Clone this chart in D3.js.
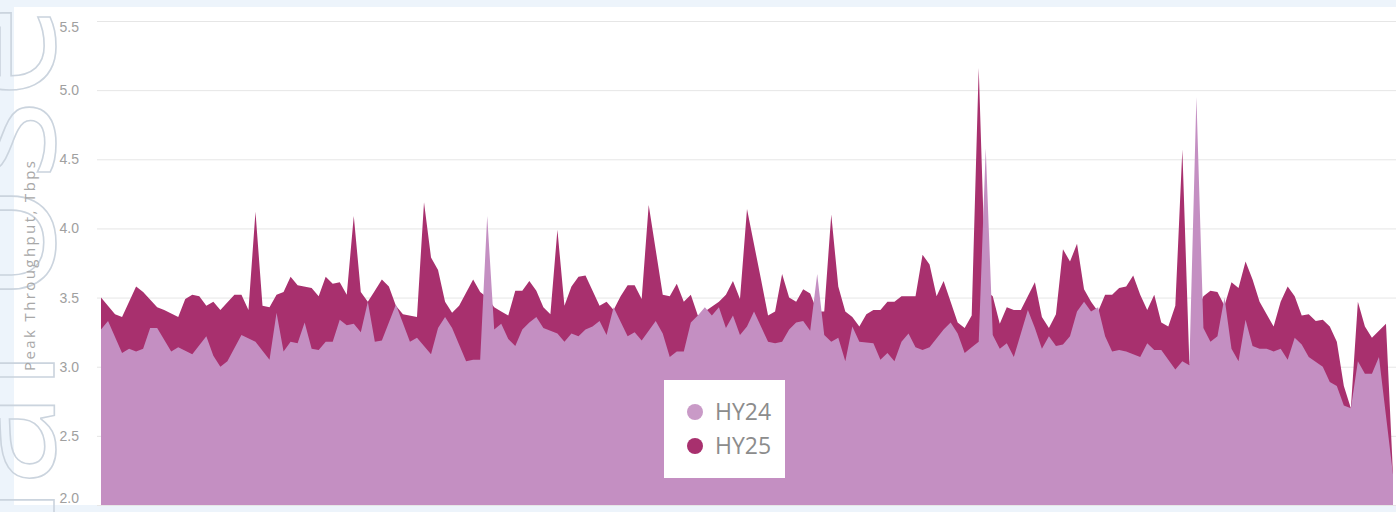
<!DOCTYPE html>
<html lang="en">
<head>
  <meta charset="UTF-8">
  <title>Peak Throughput HY24 vs HY25</title>
  <script src="https://d3js.org/d3.v7.min.js"></script>
  <style>
    body {
      margin: 0;
      background: #edf4fb;
      font-family: "Segoe UI", "Open Sans", "Noto Sans", sans-serif;
    }

    .grid line {
      stroke: #e6e6e6;
      stroke-width: 1px;
    }

    .grid text {
      fill: #a0a0a0;
      font-size: 14px;
    }

    .axis-title {
      fill: #a8a8a8;
      font-size: 15px;
    }

    .legend-label {
      fill: #8c8c8c;
      font-size: 23px;
    }

    .watermark {
      fill: none;
      stroke: #cbd4de;
      stroke-width: 1.6px;
      font-size: 170px;
      font-family: "Open Sans", sans-serif;
    }
  </style>
</head>
<body>
  <svg width="1396" height="512"></svg>

  <script>
    // values: [day of half-year, Tbps]
    var hy24Points = [
      [0, 3.27], [1, 3.33], [3, 3.10], [4, 3.13], [5, 3.11], [6, 3.13], [7, 3.28], [8, 3.28], [10, 3.11], [11, 3.14],
      [13, 3.09], [15, 3.22], [16, 3.08], [17, 3.00], [18, 3.04], [20, 3.23], [22, 3.18], [24, 3.05], [25, 3.39], [26, 3.11],
      [27, 3.18], [28, 3.17], [29, 3.32], [30, 3.13], [31, 3.12], [32, 3.18], [33, 3.18], [34, 3.34], [35, 3.30], [36, 3.31],
      [37, 3.25], [38, 3.47], [39, 3.18], [40, 3.19], [42, 3.45], [44, 3.18], [45, 3.21], [46, 3.15], [47, 3.09], [48, 3.28],
      [49, 3.36], [50, 3.28], [52, 3.04], [53, 3.05], [54, 3.05], [55, 4.09], [56, 3.27], [57, 3.31], [58, 3.20], [59, 3.15],
      [60, 3.27], [61, 3.32], [62, 3.36], [63, 3.28], [65, 3.24], [66, 3.18], [67, 3.24], [68, 3.22], [69, 3.27], [70, 3.29],
      [71, 3.33], [72, 3.23], [73, 3.43], [75, 3.22], [76, 3.25], [77, 3.19], [79, 3.33], [80, 3.24], [81, 3.07], [82, 3.11],
      [83, 3.11], [84, 3.32], [85, 3.37], [86, 3.43], [87, 3.37], [88, 3.43], [89, 3.28], [90, 3.37], [91, 3.23], [92, 3.29],
      [93, 3.40], [95, 3.18], [96, 3.17], [97, 3.18], [98, 3.27], [99, 3.32], [100, 3.33], [101, 3.26], [102, 3.67], [103, 3.23],
      [104, 3.18], [105, 3.21], [106, 3.04], [107, 3.29], [108, 3.18], [110, 3.17], [111, 3.05], [112, 3.10], [113, 3.04], [114, 3.18],
      [115, 3.24], [116, 3.14], [117, 3.12], [118, 3.14], [120, 3.27], [121, 3.32], [122, 3.24], [123, 3.10], [124, 3.14], [125, 3.18],
      [126, 4.58], [127, 3.23], [128, 3.13], [129, 3.17], [130, 3.07], [131, 3.24], [132, 3.41], [133, 3.28], [134, 3.13], [135, 3.22],
      [136, 3.15], [137, 3.16], [138, 3.22], [139, 3.40], [140, 3.47], [141, 3.40], [142, 3.43], [143, 3.22], [144, 3.11], [145, 3.12],
      [146, 3.11], [148, 3.07], [149, 3.17], [150, 3.12], [151, 3.12], [153, 2.98], [154, 3.04], [155, 3.01], [156, 4.95], [157, 3.28],
      [158, 3.18], [159, 3.22], [160, 3.50], [161, 3.13], [162, 3.04], [163, 3.34], [164, 3.15], [165, 3.13], [166, 3.13], [167, 3.11],
      [168, 3.13], [169, 3.05], [170, 3.21], [171, 3.16], [172, 3.07], [174, 3.00], [175, 2.89], [176, 2.86], [177, 2.72], [178, 2.70],
      [179, 3.04], [180, 2.95], [181, 2.95], [182, 3.07], [184, 2.22]
    ];

    var hy25Points = [
      [0, 3.50], [2, 3.38], [3, 3.36], [5, 3.58], [6, 3.54], [8, 3.43], [9, 3.41], [11, 3.36], [12, 3.49], [13, 3.52],
      [14, 3.51], [15, 3.44], [16, 3.47], [17, 3.41], [19, 3.52], [20, 3.52], [21, 3.41], [22, 4.12], [23, 3.44], [24, 3.43],
      [25, 3.52], [26, 3.54], [27, 3.65], [28, 3.59], [30, 3.57], [31, 3.51], [32, 3.65], [33, 3.60], [34, 3.61], [35, 3.52],
      [36, 4.09], [37, 3.54], [38, 3.47], [39, 3.55], [40, 3.63], [41, 3.58], [42, 3.44], [43, 3.38], [45, 3.36], [46, 4.19],
      [47, 3.79], [48, 3.70], [49, 3.47], [50, 3.39], [51, 3.44], [53, 3.63], [54, 3.54], [55, 3.50], [56, 3.43], [57, 3.40],
      [58, 3.37], [59, 3.55], [60, 3.55], [61, 3.62], [62, 3.55], [63, 3.43], [64, 3.38], [65, 3.99], [66, 3.44], [67, 3.58],
      [68, 3.65], [69, 3.66], [71, 3.44], [72, 3.47], [73, 3.41], [74, 3.51], [75, 3.59], [76, 3.59], [77, 3.49], [78, 4.17],
      [80, 3.52], [81, 3.51], [82, 3.60], [83, 3.47], [84, 3.52], [85, 3.37], [86, 3.40], [88, 3.47], [89, 3.52], [90, 3.62],
      [91, 3.49], [92, 4.14], [94, 3.63], [95, 3.37], [96, 3.40], [97, 3.67], [98, 3.50], [99, 3.47], [100, 3.56], [101, 3.53],
      [102, 3.40], [103, 3.40], [104, 4.10], [105, 3.58], [106, 3.40], [107, 3.36], [108, 3.29], [109, 3.38], [110, 3.41], [111, 3.41],
      [112, 3.47], [113, 3.47], [114, 3.51], [116, 3.51], [117, 3.81], [118, 3.74], [119, 3.51], [120, 3.62], [121, 3.47], [122, 3.32],
      [123, 3.28], [124, 3.37], [125, 5.16], [126, 3.55], [127, 3.51], [128, 3.31], [129, 3.43], [130, 3.41], [131, 3.41], [133, 3.61],
      [134, 3.36], [135, 3.28], [136, 3.38], [137, 3.85], [138, 3.76], [139, 3.89], [140, 3.56], [141, 3.47], [142, 3.40], [143, 3.52],
      [144, 3.52], [145, 3.57], [146, 3.58], [147, 3.66], [148, 3.52], [149, 3.41], [150, 3.52], [151, 3.32], [152, 3.29], [153, 3.44],
      [154, 4.57], [155, 3.02], [156, 3.40], [157, 3.51], [158, 3.55], [159, 3.54], [160, 3.44], [161, 3.61], [162, 3.57], [163, 3.76],
      [164, 3.63], [165, 3.47], [167, 3.29], [168, 3.47], [169, 3.58], [170, 3.51], [171, 3.37], [172, 3.38], [173, 3.33], [174, 3.34],
      [175, 3.29], [176, 3.18], [177, 2.86], [178, 2.70], [179, 3.47], [180, 3.29], [181, 3.21], [182, 3.26], [183, 3.31], [184, 2.22]
    ];

    var seriesNames = ["HY24", "HY25"];
    var seriesColors = ["#c48fc2", "#a8306e"];
    var legendColors = ["#c99ac7", "#a8306e"];
    var yTicks = [2.0, 2.5, 3.0, 3.5, 4.0, 4.5, 5.0, 5.5];
    var dayCount = 185;

    var svg = d3.select("svg");

    // white card
    svg.append("rect")
      .attr("x", 14)
      .attr("y", 7)
      .attr("width", 1396 - 14)
      .attr("height", 505 - 7)
      .attr("fill", "white");

    var x = d3.scaleLinear().domain([0, dayCount - 1]).range([101, 1393]);
    var y = d3.scaleLinear().domain([2.0, 5.5]).range([505, 21]);

    // gridlines + tick labels
    var grid = svg.append("g")
      .attr("class", "grid")
      .attr("transform", "translate(97,0)")
      .call(d3.axisLeft(y)
        .tickValues(yTicks)
        .tickSize(-(1396 - 97))
        .tickPadding(18)
        .tickFormat(d3.format(".1f")));

    grid.select(".domain").remove();
    grid.selectAll("text")
      .attr("dy", function (d) {
        if (d === 5.5) return "0.75em";
        if (d === 2.0) return "-0.2em";
        return "0.32em";
      });

    svg.append("clipPath")
      .attr("id", "plot-clip")
      .append("rect")
      .attr("x", 97)
      .attr("y", 7)
      .attr("width", 1396 - 97)
      .attr("height", 505 - 7);

    var area = d3.area()
      .x(function (d) { return x(d[0]); })
      .y0(y(2.0))
      .y1(function (d) { return y(d[1]); });

    var plot = svg.append("g").attr("clip-path", "url(#plot-clip)");

    // HY25 behind, HY24 in front
    plot.append("path")
      .datum(hy25Points)
      .attr("d", area)
      .attr("fill", seriesColors[1]);

    plot.append("path")
      .datum(hy24Points)
      .attr("d", area)
      .attr("fill", seriesColors[0]);

    // watermark
    svg.append("text")
      .attr("class", "watermark")
      .attr("transform", "translate(54,4) rotate(-90)")
      .attr("text-anchor", "end")
      .text("Personal Use");

    // axis title
    svg.append("text")
      .attr("class", "axis-title")
      .attr("transform", "translate(35,266) rotate(-90)")
      .attr("text-anchor", "middle")
      .attr("textLength", 210)
      .attr("lengthAdjust", "spacing")
      .text("Peak Throughput, Tbps");

    // legend
    var legend = svg.append("g").attr("transform", "translate(664,380)");

    legend.append("rect")
      .attr("width", 121)
      .attr("height", 98)
      .attr("fill", "white");

    var item = legend.selectAll(".item")
      .data(seriesNames)
      .enter().append("g")
      .attr("class", "item")
      .attr("transform", function (d, i) { return "translate(0," + (32 + i * 34) + ")"; });

    item.append("circle")
      .attr("cx", 31)
      .attr("r", 8)
      .attr("fill", function (d, i) { return legendColors[i]; });

    item.append("text")
      .attr("class", "legend-label")
      .attr("x", 51)
      .attr("dy", "0.35em")
      .text(function (d) { return d; });
  </script>
</body>
</html>
